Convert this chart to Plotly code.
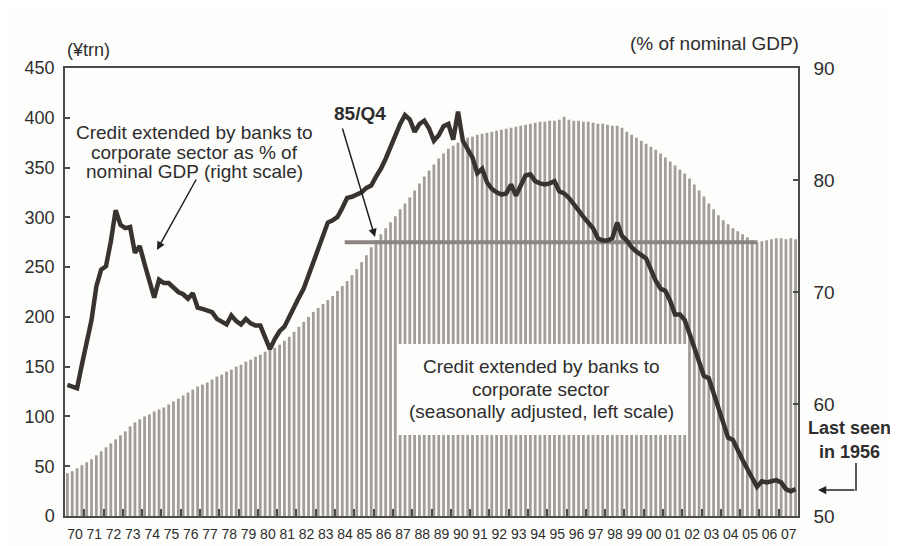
import plotly.graph_objects as go

# ---------------- data ----------------
YEARS = list(range(1970, 2008))
YEAR_LABELS = [f"{y % 100:02d}" for y in YEARS]
QUARTERS = [1, 2, 3, 4]

# Credit extended by banks to corporate sector (¥trn, seasonally adjusted, left scale), quarterly 1970Q1-2007Q4
CREDIT_TRN = [
    43, 45, 48, 51,      # 1970
    54, 57, 61, 65,      # 1971
    69, 73, 77, 81,      # 1972
    85, 90, 94, 97,      # 1973
    100, 102, 105, 107,  # 1974
    109, 112, 115, 118,  # 1975
    121, 124, 127, 130,  # 1976
    132, 134, 137, 140,  # 1977
    142, 145, 147, 150,  # 1978
    152, 155, 157, 160,  # 1979
    162, 165, 167, 169,  # 1980
    172, 176, 180, 185,  # 1981
    190, 195, 200, 205,  # 1982
    209, 213, 217, 221,  # 1983
    226, 231, 236, 242,  # 1984
    248, 255, 262, 270,  # 1985
    277, 283, 289, 295,  # 1986
    301, 308, 314, 320,  # 1987
    327, 334, 341, 347,  # 1988
    353, 359, 364, 369,  # 1989
    372, 375, 378, 380,  # 1990
    381, 383, 384, 385,  # 1991
    386, 387, 388, 389,  # 1992
    390, 391, 392, 393,  # 1993
    394, 395, 396, 396,  # 1994
    397, 397, 398, 401,  # 1995
    398, 397, 397, 396,  # 1996
    396, 395, 394, 394,  # 1997
    393, 392, 392, 390,  # 1998
    386, 383, 380, 377,  # 1999
    374, 371, 368, 364,  # 2000
    360, 356, 352, 348,  # 2001
    344, 339, 333, 327,  # 2002
    321, 314, 308, 302,  # 2003
    297, 293, 289, 286,  # 2004
    283, 280, 277, 275,  # 2005
    276, 277, 278, 279,  # 2006
    279, 278, 279, 278,  # 2007
]

# Credit extended by banks to corporate sector as % of nominal GDP (right scale)
CREDIT_PCT_GDP = [
    61.7, 61.6, 61.4, 63.5,  # 1970
    65.6, 67.5, 70.5, 72.0,  # 1971
    72.3, 74.5, 77.3, 76.0,  # 1972
    75.7, 75.8, 73.5, 74.1,  # 1973
    72.5, 71.0, 69.5, 71.1,  # 1974
    70.8, 70.8, 70.4, 70.0,  # 1975
    69.8, 69.4, 69.9, 68.6,  # 1976
    68.5, 68.4, 68.2, 67.6,  # 1977
    67.3, 67.1, 67.9, 67.4,  # 1978
    67.1, 67.6, 67.2, 67.0,  # 1979
    67.0, 66.0, 64.9, 65.8,  # 1980
    66.5, 66.9, 67.8, 68.8,  # 1981
    69.5, 70.3, 71.5, 72.8,  # 1982
    74.0, 75.0, 76.2, 76.4,  # 1983
    76.7, 77.5, 78.4, 78.5,  # 1984
    78.7, 78.9, 79.3, 79.5,  # 1985
    80.3, 81.0, 81.9, 83.0,  # 1986
    84.0, 85.0, 85.8, 85.4,  # 1987
    84.3, 85.0, 85.3, 84.6,  # 1988
    83.5, 84.0, 84.8, 85.0,  # 1989
    83.6, 86.1, 83.5, 82.8,  # 1990
    82.0, 80.6, 81.0, 79.8,  # 1991
    79.2, 78.9, 78.7, 78.8,  # 1992
    79.6, 78.6, 79.6, 80.4,  # 1993
    80.5, 79.9, 79.7, 79.6,  # 1994
    79.7, 79.9, 79.0, 78.8,  # 1995
    78.4, 77.9, 77.3, 76.7,  # 1996
    76.2, 75.7, 74.8, 74.6,  # 1997
    74.6, 74.8, 76.2, 75.0,  # 1998
    74.6, 74.0, 73.6, 73.3,  # 1999
    73.0, 72.0, 71.0, 70.3,  # 2000
    70.1, 69.2, 68.0, 68.0,  # 2001
    67.5, 66.3, 65.0, 63.5,  # 2002
    62.5, 62.3, 61.0, 59.6,  # 2003
    58.3, 57.0, 56.8, 55.8,  # 2004
    55.0, 54.2, 53.3, 52.6,  # 2005
    53.1, 53.0, 53.1, 53.2,  # 2006
    53.0, 52.4, 52.2, 52.4,  # 2007
]

# level of the bars at 85/Q4 (left scale) and the span of the reference line
REF_LEVEL = 275
REF_START = 1984.5
REF_END = 2005.9

LEFT_TICKS = list(range(0, 451, 50))
RIGHT_TICKS = list(range(50, 91, 10))

# ---------------- figure ----------------
X_Q = [y + (q - 0.5) / 4 for y in YEARS for q in QUARTERS]

OFF = 8  # the page body adds an 8px margin; all layout below is in screen pixels
W, H = 898 - OFF, 546 - OFF
PLOT_L, PLOT_R, PLOT_T, PLOT_B = 65, 798, 68, 516  # plot area on screen
ML, MT = PLOT_L - OFF, PLOT_T - OFF
MR = W - (PLOT_R - OFF)
MB = H - (PLOT_B - OFF)
PW, PH = PLOT_R - PLOT_L, PLOT_B - PLOT_T
YEAR_PX = PW / (YEARS[-1] + 1 - YEARS[0])


def px(x):
    return (x - PLOT_L) / PW


def py(y):
    return (PLOT_B - y) / PH


FONT = "Liberation Sans, Arial, Helvetica, sans-serif"
INK = "#2e2e2e"
AXIS = "#4a4a4a"

fig = go.Figure()
fig.add_trace(go.Bar(
    x=X_Q, y=CREDIT_TRN, marker=dict(color="#a39d98", line=dict(width=0)),
    yaxis="y", hoverinfo="skip",
))
fig.add_trace(go.Scatter(
    x=[REF_START, REF_END], y=[REF_LEVEL, REF_LEVEL], mode="lines",
    line=dict(color="#8c8682", width=4), yaxis="y", hoverinfo="skip",
))
fig.add_trace(go.Scatter(
    x=X_Q, y=CREDIT_PCT_GDP, mode="lines",
    line=dict(color="#383231", width=4.5), yaxis="y2", hoverinfo="skip",
))

ann = []


def text(x, y, s, size=19, bold=False):
    ann.append(dict(
        x=px(x), y=py(y), xref="paper", yref="paper", text=f"<b>{s}</b>" if bold else s,
        showarrow=False, xanchor="center", yanchor="middle",
        font=dict(family=FONT, size=size, color=INK),
    ))


def arrow(tipx, tipy, tailx, taily):
    ann.append(dict(
        x=px(tipx), y=py(tipy), xref="paper", yref="paper", text="",
        showarrow=True, ax=tailx - tipx, ay=taily - tipy,
        arrowhead=2, arrowsize=1.1, arrowwidth=1.5, arrowcolor="#222",
    ))


# axis unit labels
text(88, 50, "(¥trn)", size=18)
text(714, 44, "(% of nominal GDP)", size=19)

# upper-left label
text(194, 132, "Credit extended by banks to")
text(194, 152, "corporate sector as % of")
text(194, 172, "nominal GDP (right scale)")
arrow(157, 250, 197, 178)

# 85/Q4
text(360, 113, "85/Q4", bold=True)
arrow(375, 237, 342, 127)

# box label
text(541, 366, "Credit extended by banks to")
text(541, 389, "corporate sector")
text(541, 411, "(seasonally adjusted, left scale)")

# last seen
text(849, 428, "Last seen", size=18, bold=True)
text(849, 452, "in 1956", size=18, bold=True)
arrow(818, 490, 856, 490)

shapes = [
    dict(type="rect", xref="paper", yref="paper", x0=px(397), x1=px(688), y0=py(435), y1=py(344),
         fillcolor="#fdfdfb", line=dict(width=0), layer="above"),
    dict(type="line", xref="paper", yref="paper", x0=px(856), x1=px(856), y0=py(463), y1=py(490.7),
         line=dict(color="#222", width=1.5)),
]

fig.update_layout(
    width=W, height=H, margin=dict(l=ML, r=MR, t=MT, b=MB, pad=0, autoexpand=False),
    paper_bgcolor="#fdfdfb", plot_bgcolor="#fdfdfb",
    showlegend=False, bargap=0.42,
    font=dict(family=FONT, color=INK),
    annotations=ann, shapes=shapes,
    xaxis=dict(
        range=[YEARS[0], YEARS[-1] + 1], tickvals=YEARS, ticktext=YEAR_LABELS,
        ticks="inside", ticklen=7, tickwidth=1.5, tickcolor=AXIS,
        ticklabelshift=int(round(YEAR_PX / 2)), ticklabelstandoff=4,
        showgrid=False, zeroline=False, automargin=False,
        showline=True, linecolor=AXIS, linewidth=1.5, mirror=True,
        tickfont=dict(size=14, color=INK),
    ),
    yaxis=dict(
        range=[0, 450], tickvals=LEFT_TICKS, ticks="inside", ticklen=5, tickwidth=1.5, tickcolor=AXIS,
        showgrid=False, zeroline=False, showline=True, linecolor=AXIS, linewidth=1.5,
        tickfont=dict(size=18, color=INK), ticklabelstandoff=5, automargin=False,
    ),
    yaxis2=dict(
        range=[50, 90], tickvals=RIGHT_TICKS, ticks="inside", ticklen=5, tickwidth=1.5, tickcolor=AXIS,
        overlaying="y", side="right", showgrid=False, zeroline=False,
        showline=True, linecolor=AXIS, linewidth=1.5, automargin=False,
        tickfont=dict(size=19, color=INK), ticklabelstandoff=10,
    ),
)

fig.write_html("out.html")
